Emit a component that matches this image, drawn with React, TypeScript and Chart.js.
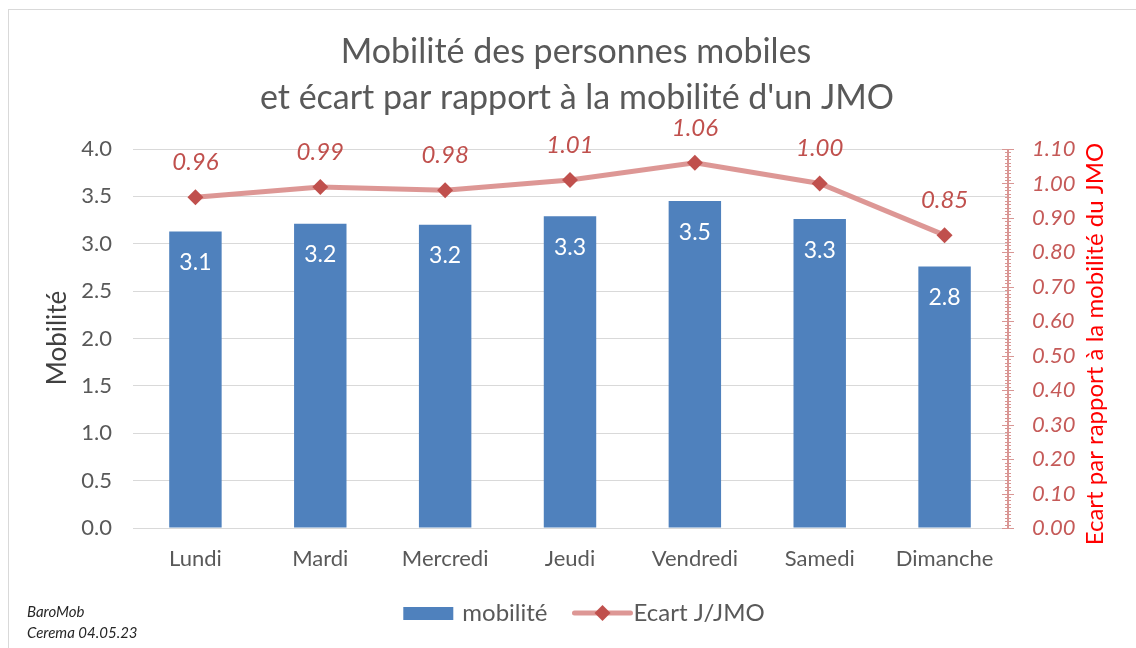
import React, { useEffect, useRef } from "react";
import { Chart, registerables } from "chart.js";

Chart.register(...registerables);

const categories = ["Lundi", "Mardi", "Mercredi", "Jeudi", "Vendredi", "Samedi", "Dimanche"];
const mobilite = [3.13, 3.21, 3.2, 3.29, 3.45, 3.26, 2.76];
const ecart = [0.96, 0.99, 0.98, 1.01, 1.06, 1.0, 0.85];
const titleLines = ["Mobilité des personnes mobiles", "et écart par rapport à la mobilité d'un JMO"];
const leftTitle = "Mobilité";
const rightTitle = "Ecart par rapport à la mobilité du JMO";
const legendLabels = ["mobilité", "Ecart J/JMO"];
const footnotes = ["BaroMob", "Cerema 04.05.23"];

const FONT = "Lato, 'Open Sans', sans-serif";
const BAR = "#4F81BD";
const LINE = "rgba(217,140,138,0.9)";
const POINT = "#C0504D";
const GREY = "#595959";
const RED_TICK = "#C55A58";

const overlayPlugin = {
  id: "overlay",
  afterDatasetsDraw(chart: any) {
    const ctx = chart.ctx;
    ctx.save();
    const m0 = chart.getDatasetMeta(0);
    ctx.fillStyle = "#FFFFFF";
    ctx.font = `23px ${FONT}`;
    ctx.textAlign = "center";
    ctx.textBaseline = "middle";
    m0.data.forEach((el: any, i: number) => {
      ctx.fillText(mobilite[i].toFixed(1), el.x, el.y + 31);
    });
    const m1 = chart.getDatasetMeta(1);
    ctx.fillStyle = POINT;
    ctx.font = `italic 24px ${FONT}`;
    m1.data.forEach((el: any, i: number) => {
      ctx.fillText(ecart[i].toFixed(2), el.x, el.y - 35);
    });
    ctx.restore();
  },
  afterDraw(chart: any) {
    const ctx = chart.ctx;
    const ca = chart.chartArea;
    ctx.save();
    const y1 = chart.scales.y1;
    const ax = ca.right + 1;
    ctx.strokeStyle = "#D99694";
    ctx.lineWidth = 1;
    for (let k = 0; k <= 110; k++) {
      const py = Math.round(y1.getPixelForValue(k / 100)) + 0.5;
      const len = k % 10 === 0 ? 6 : 3;
      ctx.beginPath();
      ctx.moveTo(ax - len, py);
      ctx.lineTo(ax + len, py);
      ctx.stroke();
    }
    ctx.lineWidth = 2;
    ctx.beginPath();
    ctx.moveTo(ax, y1.getPixelForValue(1.1));
    ctx.lineTo(ax, y1.getPixelForValue(0));
    ctx.stroke();

    ctx.fillStyle = GREY;
    ctx.font = `34px ${FONT}`;
    ctx.textAlign = "center";
    ctx.textBaseline = "middle";
    ctx.fillText(titleLines[0], 576, 52);
    ctx.fillText(titleLines[1], 577, 98);

    ctx.save();
    ctx.translate(58, 338);
    ctx.rotate(-Math.PI / 2);
    ctx.fillStyle = "#404040";
    ctx.font = `26px ${FONT}`;
    ctx.fillText(leftTitle, 0, 0);
    ctx.restore();

    ctx.save();
    ctx.translate(1095, 344);
    ctx.rotate(-Math.PI / 2);
    ctx.fillStyle = "#FF0000";
    ctx.font = `24px ${FONT}`;
    ctx.fillText(rightTitle, 0, 0);
    ctx.restore();

    ctx.font = `24px ${FONT}`;
    ctx.textAlign = "left";
    const w1 = ctx.measureText(legendLabels[0]).width;
    const w2 = ctx.measureText(legendLabels[1]).width;
    const total = 50 + 9 + w1 + 27 + 56 + 3 + w2;
    let x = 584 - total / 2;
    const ly = 613;
    ctx.fillStyle = BAR;
    ctx.fillRect(x, ly - 6, 50, 13);
    x += 59;
    ctx.fillStyle = GREY;
    ctx.fillText(legendLabels[0], x, ly);
    x += w1 + 27;
    ctx.strokeStyle = LINE;
    ctx.lineWidth = 5;
    ctx.lineCap = "round";
    ctx.beginPath();
    ctx.moveTo(x, ly);
    ctx.lineTo(x + 56, ly);
    ctx.stroke();
    ctx.fillStyle = POINT;
    ctx.beginPath();
    ctx.moveTo(x + 28, ly - 8);
    ctx.lineTo(x + 36, ly);
    ctx.lineTo(x + 28, ly + 8);
    ctx.lineTo(x + 20, ly);
    ctx.closePath();
    ctx.fill();
    x += 59;
    ctx.fillStyle = GREY;
    ctx.fillText(legendLabels[1], x, ly);

    ctx.fillStyle = "#262626";
    ctx.font = `italic 15px ${FONT}`;
    ctx.fillText(footnotes[0], 27, 612);
    ctx.fillText(footnotes[1], 27, 633);
    ctx.restore();
  },
};

export default function App() {
  const ref = useRef<HTMLCanvasElement>(null);
  useEffect(() => {
    if (!ref.current) return;
    const chart = new Chart(ref.current, {
      type: "bar",
      data: {
        labels: categories,
        datasets: [
          {
            type: "bar",
            label: legendLabels[0],
            data: mobilite,
            backgroundColor: BAR,
            yAxisID: "y",
            barPercentage: 0.42,
            categoryPercentage: 1,
            order: 2,
          },
          {
            type: "line",
            label: legendLabels[1],
            data: ecart,
            yAxisID: "y1",
            borderColor: LINE,
            borderWidth: 5,
            pointStyle: "rectRot",
            pointRadius: 8,
            pointBackgroundColor: POINT,
            pointBorderColor: POINT,
            pointBorderWidth: 0,
            tension: 0,
            order: 1,
          } as any,
        ],
      },
      options: {
        responsive: false,
        animation: false,
        layout: { padding: { top: 149, left: 0, right: 0, bottom: 0 } },
        plugins: {
          legend: { display: false },
          title: { display: false },
          tooltip: { enabled: false },
        },
        scales: {
          x: {
            grid: { display: false, drawTicks: false },
            border: { display: true, color: "#D9D9D9", width: 1 },
            ticks: { color: GREY, font: { family: FONT, size: 22 }, padding: 18 },
            afterFit: (s: any) => {
              s.height = 120;
            },
          },
          y: {
            position: "left",
            min: 0,
            max: 4,
            ticks: {
              stepSize: 0.5,
              color: GREY,
              font: { family: FONT, size: 22 },
              padding: 21,
              callback: (v: any) => Number(v).toFixed(1),
            },
            grid: { color: "#D9D9D9", lineWidth: 1, drawTicks: false },
            border: { display: false },
            afterFit: (s: any) => {
              s.width = 133;
            },
          },
          y1: {
            position: "right",
            min: 0,
            max: 1.1,
            ticks: {
              stepSize: 0.1,
              color: RED_TICK,
              font: { family: FONT, size: 22, style: "italic" },
              padding: 25,
              callback: (v: any) => Number(v).toFixed(2),
            },
            grid: { drawOnChartArea: false, drawTicks: false },
            border: { display: false },
            afterFit: (s: any) => {
              s.width = 129;
            },
          },
        },
      },
      plugins: [overlayPlugin],
    });
    return () => chart.destroy();
  }, []);
  return (
    <div
      style={{
        position: "absolute",
        left: 0,
        top: 0,
        width: 1136,
        height: 648,
        overflow: "hidden",
        background: "#fff",
      }}
    >
      <canvas ref={ref} width={1136} height={648} style={{ display: "block" }} />
      <div
        style={{
          position: "absolute",
          left: 8,
          top: 9,
          width: 1200,
          height: 700,
          borderLeft: "1px solid #D9D9D9",
          borderTop: "1px solid #D9D9D9",
          pointerEvents: "none",
        }}
      />
    </div>
  );
}
